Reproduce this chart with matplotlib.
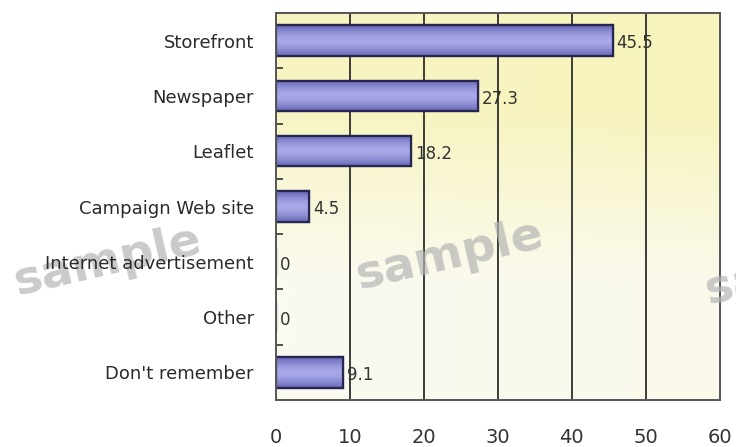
import numpy as np
import matplotlib
matplotlib.use('Agg')
import matplotlib.pyplot as plt
from matplotlib.colors import LinearSegmentedColormap

# Survey results (%)
categories = ['Storefront', 'Newspaper', 'Leaflet', 'Campaign Web site',
              'Internet advertisement', 'Other', "Don't remember"]
values = [45.5, 27.3, 18.2, 4.5, 0, 0, 9.1]
xticks = [0, 10, 20, 30, 40, 50, 60]

plt.rcParams['font.family'] = ['DejaVu Sans']

fig = plt.figure(figsize=(7.36, 4.47), dpi=100)
ax = fig.add_axes([0.375, 0.105, 0.603, 0.866])

n = len(categories)
y = np.arange(n)

# pale yellow background fading towards the bottom
grad = np.linspace(0, 1, 200)
bg = np.clip((grad - 0.25) / 0.45, 0, 1)[:, None] * np.ones((1, 50))
bg = bg * 0.85 + 0.15 * np.linspace(0.6, 0, 50)[None, :]
bg_cmap = LinearSegmentedColormap.from_list('bg', ['#f7f4bd', '#fbfaf1'])
ax.imshow(np.clip(bg, 0, 1), cmap=bg_cmap, extent=[0, 60, n - 0.5, -0.5],
          aspect='auto', zorder=0, interpolation='bilinear')

# vertical grid lines
for gx in xticks[1:-1]:
    ax.axvline(gx, color='#2e2e2e', lw=1.3, zorder=1)

bar_h = 0.55
bars = ax.barh(y, values, height=bar_h, color='#9494d8', edgecolor='#262650',
               lw=1.6, zorder=3)

# shaded bar fill, darker along the edges
shade = np.abs(np.linspace(-1, 1, 40)) ** 1.6
bar_cmap = LinearSegmentedColormap.from_list('bar', ['#a8a8e8', '#6666b4'])
for b, v in zip(bars, values):
    if v <= 0:
        continue
    yc = b.get_y()
    im = ax.imshow(shade[:, None], cmap=bar_cmap, aspect='auto',
                   extent=[0, v, yc + bar_h, yc], zorder=3.5,
                   interpolation='bilinear')
    im.set_clip_path(b)
    ax.add_patch(plt.Rectangle((0, yc), v, bar_h, fill=False,
                               edgecolor='#262650', lw=1.6, zorder=4))

for yi, v in zip(y, values):
    label = '0' if v == 0 else f'{v:.1f}'
    ax.annotate(label, (v, yi), xytext=(3, -2), textcoords='offset points',
                ha='left', va='center', fontsize=12, color='#333333',
                zorder=5)

ax.set_xlim(0, 60)
ax.set_ylim(n - 0.5, -0.5)
ax.set_xticks(xticks)
ax.set_xticklabels([str(t) for t in xticks], fontsize=14, color='#333333')
ax.tick_params(axis='x', length=0, pad=20)
ax.set_yticks(y)
ax.set_yticklabels(categories, fontsize=13, color='#2a2a2a')
ax.tick_params(axis='y', length=0, pad=16)
ax.set_yticks(np.arange(n - 1) + 0.5, minor=True)
ax.tick_params(axis='y', which='minor', direction='in', length=5,
               width=1.2, color='#333333')
for s in ax.spines.values():
    s.set_color('#555555')
    s.set_linewidth(1.4)
    s.set_zorder(6)

# watermark
wm = dict(fontsize=34, fontweight='bold', color='#b4b4b4', alpha=0.7,
          rotation=13, va='center', family='DejaVu Sans')
fig.text(0.146, 0.415, 'sample', ha='center', zorder=-1, **wm)
fig.text(0.611, 0.428, 'sample', ha='center', zorder=10, **wm)
fig.text(0.951, 0.395, 'sample', ha='left', zorder=10, **wm)

fig.savefig('out.png', dpi=100)
